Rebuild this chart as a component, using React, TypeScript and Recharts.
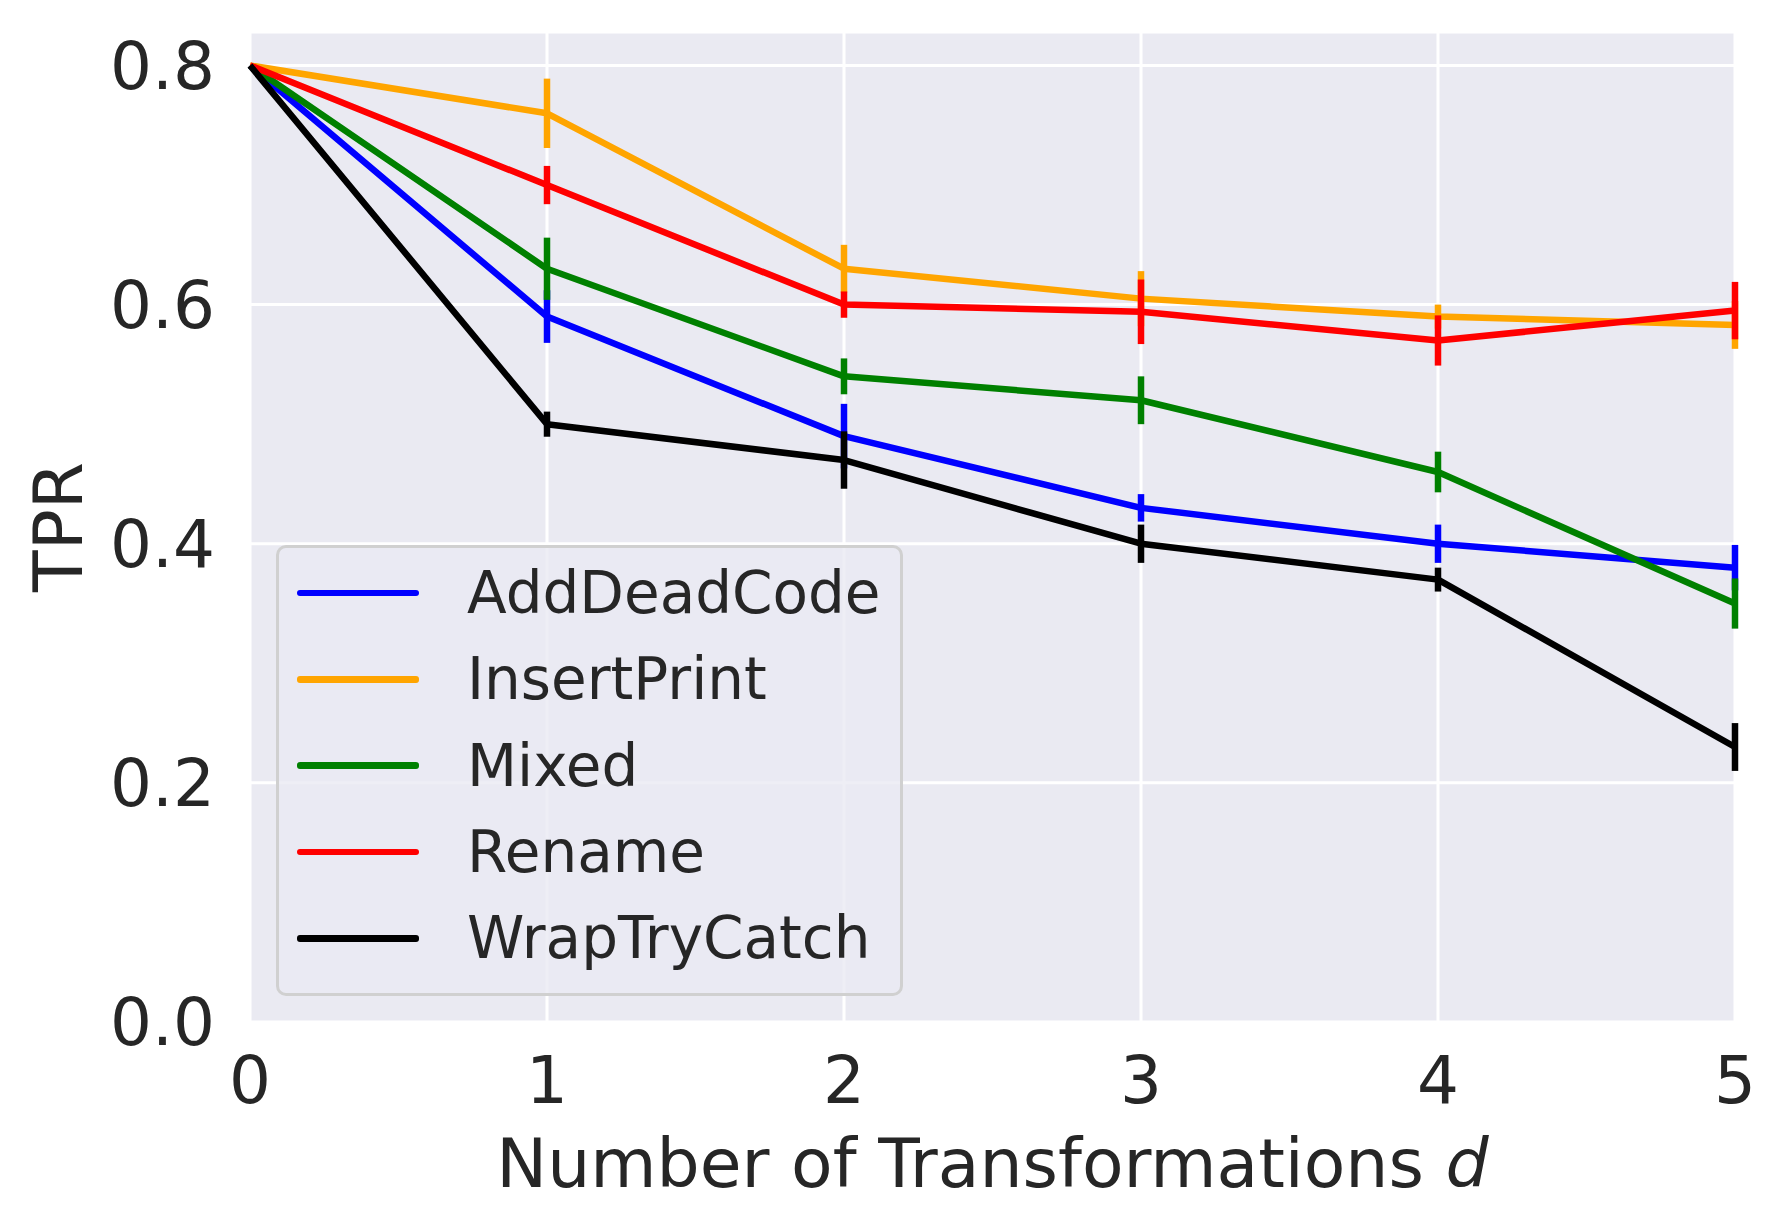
import {
  CartesianGrid,
  ErrorBar,
  Label,
  Legend,
  Line,
  LineChart,
  XAxis,
  YAxis,
} from 'recharts';

const steps = [0, 1, 2, 3, 4, 5];
const xTicks = [0, 1, 2, 3, 4, 5];
const yTicks = [0, 0.2, 0.4, 0.6, 0.8];

const seriesNames = ['AddDeadCode', 'InsertPrint', 'Mixed', 'Rename', 'WrapTryCatch'];
const seriesColors = ['#0000ff', '#ffa500', '#008000', '#ff0000', '#000000'];

const addDeadCode = [0.8, 0.59, 0.49, 0.43, 0.4, 0.38];
const addDeadCodeErr = [0, 0.022, 0.027, 0.0115, 0.016, 0.019];
const insertPrint = [0.8, 0.76, 0.63, 0.605, 0.59, 0.583];
const insertPrintErr = [0, 0.029, 0.02, 0.023, 0.01, 0.02];
const mixed = [0.8, 0.63, 0.54, 0.52, 0.46, 0.35];
const mixedErr = [0, 0.026, 0.015, 0.02, 0.017, 0.021];
const rename = [0.8, 0.7, 0.6, 0.594, 0.57, 0.595];
const renameErr = [0, 0.016, 0.011, 0.027, 0.021, 0.024];
const wrapTryCatch = [0.8, 0.5, 0.47, 0.4, 0.37, 0.23];
const wrapTryCatchErr = [0, 0.0105, 0.024, 0.016, 0.01, 0.02];

const values = [addDeadCode, insertPrint, mixed, rename, wrapTryCatch];
const errors = [addDeadCodeErr, insertPrintErr, mixedErr, renameErr, wrapTryCatchErr];

const data = steps.map((d, i) => {
  const row: Record<string, number> = { d };
  seriesNames.forEach((name, s) => {
    row[name] = values[s][i];
    row[name + '_err'] = errors[s][i];
  });
  return row;
});

const FONT = '"DejaVu Sans", sans-serif';
const INK = '#262626';

function LegendBox({ payload }: any) {
  return (
    <div
      style={{
        width: 621,
        height: 443,
        border: '3px solid #d0d0d0',
        borderRadius: 10,
        background: 'rgba(234,234,242,0.8)',
        boxSizing: 'content-box',
        paddingTop: 2,
        fontFamily: FONT,
      }}
    >
      {(payload || []).map((item: any) => (
        <div
          key={item.value}
          style={{ height: 86.3, display: 'flex', alignItems: 'center' }}
        >
          <div
            style={{
              marginLeft: 18,
              width: 122,
              height: 6.5,
              borderRadius: 3,
              background: item.color,
            }}
          />
          <span
            style={{
              marginLeft: 48,
              fontSize: 58,
              color: INK,
              lineHeight: 1,
              position: 'relative',
              top: 0,
            }}
          >
            {item.value}
          </span>
        </div>
      ))}
    </div>
  );
}

export default function App() {
  return (
    <div style={{ position: 'absolute', left: 0, top: 0, width: 1787, height: 1231, background: '#fff' }}>
      <LineChart
        width={1787}
        height={1231}
        data={data}
        margin={{ top: 32, right: 52, bottom: 0, left: 0 }}
      >
        <CartesianGrid fill="#eaeaf2" stroke="#ffffff" strokeWidth={3} />
        <XAxis
          type="number"
          dataKey="d"
          domain={[0, 5]}
          ticks={xTicks}
          height={209}
          axisLine={false}
          tickLine={false}
          tickSize={0}
          tickMargin={34}
          tick={{ fill: INK, fontSize: 66, fontFamily: FONT }}
        >
          <Label
            content={({ viewBox }: any) => (
              <text
                x={viewBox.x + viewBox.width / 2}
                y={viewBox.y + 165}
                textAnchor="middle"
                fill={INK}
                fontSize={68}
                fontFamily={FONT}
              >
                Number of Transformations <tspan fontStyle="italic">d</tspan>
              </text>
            )}
          />
        </XAxis>
        <YAxis
          type="number"
          domain={[0, 0.828]}
          ticks={yTicks}
          allowDataOverflow
          width={250}
          axisLine={false}
          tickLine={false}
          tickSize={0}
          tickMargin={35}
          tickFormatter={(v: number) => v.toFixed(1)}
          tick={{ fill: INK, fontSize: 66, fontFamily: FONT }}
        >
          <Label
            content={({ viewBox }: any) => {
              const cx = viewBox.x + 58;
              const cy = viewBox.y + viewBox.height / 2;
              return (
                <text
                  x={cx}
                  y={cy}
                  transform={`rotate(-90 ${cx} ${cy})`}
                  textAnchor="middle"
                  dominantBaseline="central"
                  fill={INK}
                  fontSize={68}
                  fontFamily={FONT}
                >
                  TPR
                </text>
              );
            }}
          />
        </YAxis>
        <Legend
          layout="vertical"
          align="center"
          verticalAlign="middle"
          wrapperStyle={{ left: 276, top: 545, width: 'auto' }}
          content={LegendBox}
        />
        {seriesNames.map((name, s) => (
          <Line
            key={name}
            type="linear"
            dataKey={name}
            name={name}
            stroke={seriesColors[s]}
            strokeWidth={6.5}
            strokeLinejoin="round"
            dot={false}
            activeDot={false}
            isAnimationActive={false}
          >
            <ErrorBar
              dataKey={name + '_err'}
              direction="y"
              width={0}
              stroke={seriesColors[s]}
              strokeWidth={6.5}
              isAnimationActive={false}
            />
          </Line>
        ))}
      </LineChart>
    </div>
  );
}
